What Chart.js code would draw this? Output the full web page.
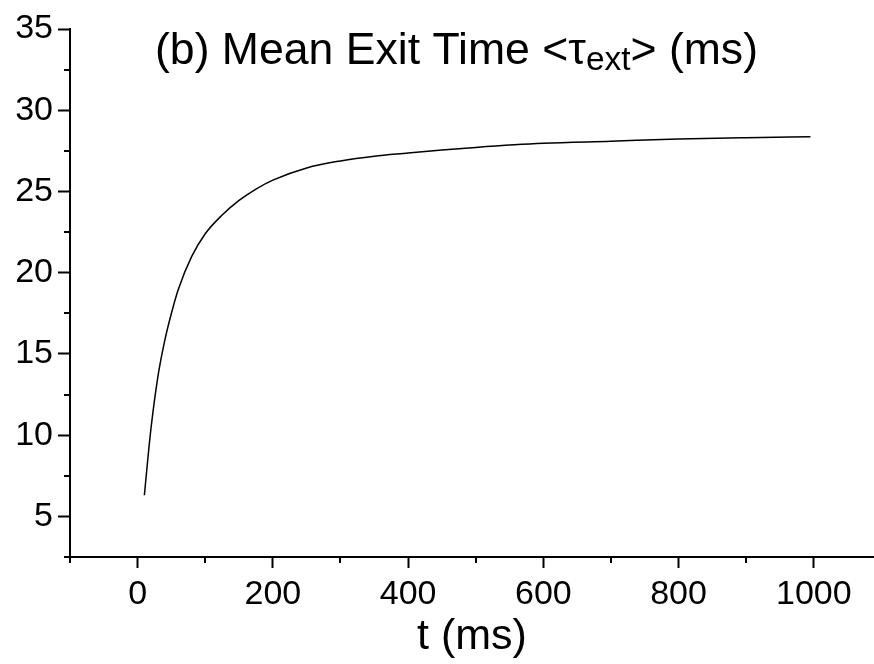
<!DOCTYPE html>
<html>
<head>
<meta charset="utf-8">
<script src="https://cdn.jsdelivr.net/npm/chart.js@4/dist/chart.umd.min.js"></script>
<style>
  html, body { margin: 0; padding: 0; background: #fff; overflow: hidden; }
  #wrap { width: 874px; height: 664px; position: relative; }
</style>
</head>
<body>
<div id="wrap"><canvas id="c" width="874" height="664"></canvas></div>
<script>
// Mean exit time curve, t in ms
const timeMs = [10, 15, 20, 30, 40, 50, 60, 80, 100, 125, 150, 175, 200, 250, 300, 350, 400, 450, 500, 600, 700, 800, 900, 995];
const meanExit = [6.3, 8.5, 10.5, 13.6, 15.8, 17.5, 18.95, 21.0, 22.4, 23.55, 24.45, 25.15, 25.7, 26.45, 26.88, 27.17, 27.36, 27.55, 27.71, 27.96, 28.09, 28.23, 28.31, 28.36];

// Labelled ticks and unlabelled minor ticks
const xMajorTicks = [0, 200, 400, 600, 800, 1000];
const xMinorTicks = [-100, 100, 300, 500, 700, 900];
const yMajorTicks = [5, 10, 15, 20, 25, 30, 35];
const yMinorTicks = [2.5, 7.5, 12.5, 17.5, 22.5, 27.5, 32.5];

const titleParts = { lead: '(b) Mean Exit Time <', symbol: '\u03C4', sub: 'ext', tail: '> (ms)' };
const xTitle = 't (ms)';

const FONT = '"Liberation Sans", Arial, Helvetica, sans-serif';

const minorTicksPlugin = {
  id: 'minorTicks',
  afterDraw(chart) {
    const ctx = chart.ctx;
    const xs = chart.scales.x, ys = chart.scales.y;
    const area = chart.chartArea;
    ctx.save();
    ctx.strokeStyle = '#000';
    ctx.lineWidth = 2;
    ctx.beginPath();
    xMinorTicks.forEach(v => {
      const px = Math.round(xs.getPixelForValue(v));
      ctx.moveTo(px, area.bottom);
      ctx.lineTo(px, area.bottom + 6);
    });
    yMinorTicks.forEach(v => {
      const py = Math.round(ys.getPixelForValue(v));
      ctx.moveTo(area.left, py);
      ctx.lineTo(area.left - 6, py);
    });
    ctx.stroke();
    ctx.restore();
  }
};

const innerTitlePlugin = {
  id: 'innerTitle',
  afterDraw(chart) {
    const ctx = chart.ctx;
    const mainFont = '44px ' + FONT;
    const subFont = '33px ' + FONT;
    ctx.save();
    ctx.font = mainFont;
    const wLead = ctx.measureText(titleParts.lead).width;
    const wSym = ctx.measureText(titleParts.symbol).width;
    const wTail = ctx.measureText(titleParts.tail).width;
    ctx.font = subFont;
    const wSub = ctx.measureText(titleParts.sub).width;
    const natural = wLead + wSym + wSub + wTail;
    const targetWidth = 603;
    const sx = targetWidth / natural;
    const centerX = 456.5;
    const baseline = 64;
    ctx.translate(centerX - targetWidth / 2, baseline);
    ctx.scale(sx, 1);
    ctx.fillStyle = '#000';
    ctx.textBaseline = 'alphabetic';
    ctx.textAlign = 'left';
    let cx = 0;
    ctx.font = mainFont;
    ctx.fillText(titleParts.lead, cx, 0); cx += wLead;
    ctx.fillText(titleParts.symbol, cx, 0); cx += wSym;
    ctx.font = subFont;
    ctx.fillText(titleParts.sub, cx, 6); cx += wSub;
    ctx.font = mainFont;
    ctx.fillText(titleParts.tail, cx, 0);
    ctx.restore();
  }
};

new Chart(document.getElementById('c'), {
  type: 'scatter',
  data: {
    datasets: [{
      data: timeMs.map((t, i) => ({ x: t, y: meanExit[i] })),
      showLine: true,
      borderColor: '#000',
      borderWidth: 1.5,
      pointRadius: 0,
      cubicInterpolationMode: 'monotone',
      fill: false
    }]
  },
  options: {
    responsive: false,
    animation: false,
    events: [],
    layout: { padding: { top: 29, left: 0, right: 0, bottom: 0 } },
    plugins: { legend: { display: false }, tooltip: { enabled: false }, title: { display: false } },
    scales: {
      x: {
        type: 'linear',
        min: -100,
        max: 1089,
        afterBuildTicks(scale) { scale.ticks = xMajorTicks.map(v => ({ value: v })); },
        afterFit(scale) { scale.height = 107; },
        grid: { display: true, drawOnChartArea: false, drawTicks: true, tickLength: 11, tickWidth: 2, tickColor: '#000' },
        border: { display: true, color: '#000', width: 2 },
        ticks: { color: '#000', font: { family: FONT, size: 34 }, padding: 6, maxRotation: 0, autoSkip: false, callback: v => String(v) },
        title: { display: true, text: xTitle, color: '#000', font: { family: FONT, size: 43 }, padding: { top: 0, bottom: 1 } }
      },
      y: {
        type: 'linear',
        min: 2.5,
        max: 35,
        afterBuildTicks(scale) { scale.ticks = yMajorTicks.map(v => ({ value: v })); },
        afterFit(scale) { scale.width = 70; },
        grid: { display: true, drawOnChartArea: false, drawTicks: true, tickLength: 12, tickWidth: 2, tickColor: '#000' },
        border: { display: true, color: '#000', width: 2 },
        ticks: { color: '#000', font: { family: FONT, size: 34 }, padding: 5, autoSkip: false, callback: v => String(v) }
      }
    }
  },
  plugins: [minorTicksPlugin, innerTitlePlugin]
});
</script>
</body>
</html>
